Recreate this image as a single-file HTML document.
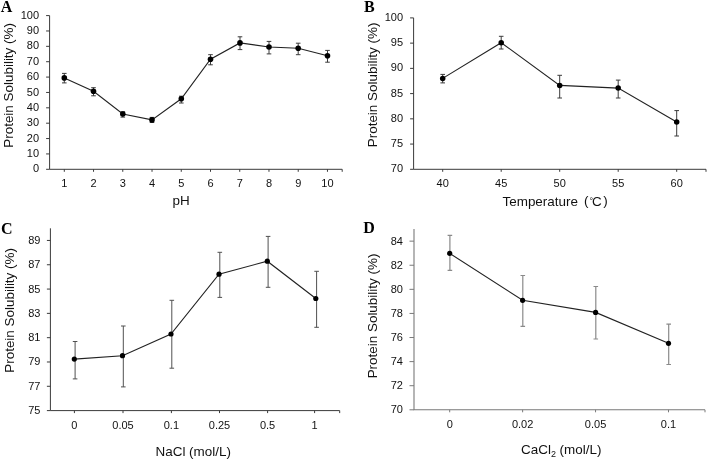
<!DOCTYPE html>
<html><head><meta charset="utf-8"><style>
html,body{margin:0;padding:0;background:#fff;width:708px;height:460px;overflow:hidden}
svg{display:block;will-change:transform}
.tk{font-family:"Liberation Sans",sans-serif;font-size:11px;fill:#111}
.tt{font-family:"Liberation Sans",sans-serif;font-size:13.45px;fill:#111}
.lt{font-family:"Liberation Serif",serif;font-weight:bold;font-size:16px;fill:#000}
</style></head><body>
<svg width="708" height="460" viewBox="0 0 708 460">
<path d="M49.6 15.6V169.3H342.2" fill="none" stroke="#3a3a3a" stroke-width="1"/>
<path d="M46.1 169.3H49.6" stroke="#3a3a3a" stroke-width="1"/>
<text x="39.1" y="172.4" text-anchor="end" class="tk">0</text>
<path d="M46.1 153.93H49.6" stroke="#3a3a3a" stroke-width="1"/>
<text x="39.1" y="157.03" text-anchor="end" class="tk">10</text>
<path d="M46.1 138.56H49.6" stroke="#3a3a3a" stroke-width="1"/>
<text x="39.1" y="141.66" text-anchor="end" class="tk">20</text>
<path d="M46.1 123.19H49.6" stroke="#3a3a3a" stroke-width="1"/>
<text x="39.1" y="126.29" text-anchor="end" class="tk">30</text>
<path d="M46.1 107.82H49.6" stroke="#3a3a3a" stroke-width="1"/>
<text x="39.1" y="110.92" text-anchor="end" class="tk">40</text>
<path d="M46.1 92.45H49.6" stroke="#3a3a3a" stroke-width="1"/>
<text x="39.1" y="95.55" text-anchor="end" class="tk">50</text>
<path d="M46.1 77.08H49.6" stroke="#3a3a3a" stroke-width="1"/>
<text x="39.1" y="80.18" text-anchor="end" class="tk">60</text>
<path d="M46.1 61.71H49.6" stroke="#3a3a3a" stroke-width="1"/>
<text x="39.1" y="64.81" text-anchor="end" class="tk">70</text>
<path d="M46.1 46.34H49.6" stroke="#3a3a3a" stroke-width="1"/>
<text x="39.1" y="49.44" text-anchor="end" class="tk">80</text>
<path d="M46.1 30.97H49.6" stroke="#3a3a3a" stroke-width="1"/>
<text x="39.1" y="34.07" text-anchor="end" class="tk">90</text>
<path d="M46.1 15.6H49.6" stroke="#3a3a3a" stroke-width="1"/>
<text x="39.1" y="18.7" text-anchor="end" class="tk">100</text>
<path d="M64.3 169.3V171.8" stroke="#3a3a3a" stroke-width="1"/>
<text x="64.3" y="186.5" text-anchor="middle" class="tk">1</text>
<path d="M93.54 169.3V171.8" stroke="#3a3a3a" stroke-width="1"/>
<text x="93.54" y="186.5" text-anchor="middle" class="tk">2</text>
<path d="M122.78 169.3V171.8" stroke="#3a3a3a" stroke-width="1"/>
<text x="122.78" y="186.5" text-anchor="middle" class="tk">3</text>
<path d="M152.02 169.3V171.8" stroke="#3a3a3a" stroke-width="1"/>
<text x="152.02" y="186.5" text-anchor="middle" class="tk">4</text>
<path d="M181.26 169.3V171.8" stroke="#3a3a3a" stroke-width="1"/>
<text x="181.26" y="186.5" text-anchor="middle" class="tk">5</text>
<path d="M210.5 169.3V171.8" stroke="#3a3a3a" stroke-width="1"/>
<text x="210.5" y="186.5" text-anchor="middle" class="tk">6</text>
<path d="M239.74 169.3V171.8" stroke="#3a3a3a" stroke-width="1"/>
<text x="239.74" y="186.5" text-anchor="middle" class="tk">7</text>
<path d="M268.98 169.3V171.8" stroke="#3a3a3a" stroke-width="1"/>
<text x="268.98" y="186.5" text-anchor="middle" class="tk">8</text>
<path d="M298.22 169.3V171.8" stroke="#3a3a3a" stroke-width="1"/>
<text x="298.22" y="186.5" text-anchor="middle" class="tk">9</text>
<path d="M327.46 169.3V171.8" stroke="#3a3a3a" stroke-width="1"/>
<text x="327.46" y="186.5" text-anchor="middle" class="tk">10</text>
<path d="M342.2 169.3V171.8" stroke="#3a3a3a" stroke-width="1"/>
<path d="M64.3 73.4V82.9M62 73.4H66.6M62 82.9H66.6" stroke="#3a3a3a" stroke-width="1" fill="none"/>
<path d="M93.5 87.7V95.8M91.2 87.7H95.8M91.2 95.8H95.8" stroke="#3a3a3a" stroke-width="1" fill="none"/>
<path d="M122.8 111.7V117.1M120.5 111.7H125.1M120.5 117.1H125.1" stroke="#3a3a3a" stroke-width="1" fill="none"/>
<path d="M152 117.4V122.4M149.7 117.4H154.3M149.7 122.4H154.3" stroke="#3a3a3a" stroke-width="1" fill="none"/>
<path d="M181.3 96.2V103M179 96.2H183.6M179 103H183.6" stroke="#3a3a3a" stroke-width="1" fill="none"/>
<path d="M210.5 54.7V64.8M208.2 54.7H212.8M208.2 64.8H212.8" stroke="#3a3a3a" stroke-width="1" fill="none"/>
<path d="M240 36.8V49.6M237.7 36.8H242.3M237.7 49.6H242.3" stroke="#3a3a3a" stroke-width="1" fill="none"/>
<path d="M269 41.4V53.9M266.7 41.4H271.3M266.7 53.9H271.3" stroke="#3a3a3a" stroke-width="1" fill="none"/>
<path d="M298.2 43.2V54.7M295.9 43.2H300.5M295.9 54.7H300.5" stroke="#3a3a3a" stroke-width="1" fill="none"/>
<path d="M327.5 50.4V62.2M325.2 50.4H329.8M325.2 62.2H329.8" stroke="#3a3a3a" stroke-width="1" fill="none"/>
<path d="M64.3 77.9 L93.5 91.3 L122.8 114 L152 119.9 L181.3 98.8 L210.5 59.2 L240 42.9 L269 47 L298.2 48.3 L327.5 55.8" stroke="#222" stroke-width="1.1" fill="none"/>
<circle cx="64.3" cy="77.9" r="2.8" fill="#000"/>
<circle cx="93.5" cy="91.3" r="2.8" fill="#000"/>
<circle cx="122.8" cy="114" r="2.8" fill="#000"/>
<circle cx="152" cy="119.9" r="2.8" fill="#000"/>
<circle cx="181.3" cy="98.8" r="2.8" fill="#000"/>
<circle cx="210.5" cy="59.2" r="2.8" fill="#000"/>
<circle cx="240" cy="42.9" r="2.8" fill="#000"/>
<circle cx="269" cy="47" r="2.8" fill="#000"/>
<circle cx="298.2" cy="48.3" r="2.8" fill="#000"/>
<circle cx="327.5" cy="55.8" r="2.8" fill="#000"/>
<path d="M413.6 17.9V169.3H706" fill="none" stroke="#3a3a3a" stroke-width="1"/>
<path d="M410.1 169.3H413.6" stroke="#3a3a3a" stroke-width="1"/>
<text x="403.1" y="172.4" text-anchor="end" class="tk">70</text>
<path d="M410.1 144.07H413.6" stroke="#3a3a3a" stroke-width="1"/>
<text x="403.1" y="147.17" text-anchor="end" class="tk">75</text>
<path d="M410.1 118.83H413.6" stroke="#3a3a3a" stroke-width="1"/>
<text x="403.1" y="121.93" text-anchor="end" class="tk">80</text>
<path d="M410.1 93.6H413.6" stroke="#3a3a3a" stroke-width="1"/>
<text x="403.1" y="96.7" text-anchor="end" class="tk">85</text>
<path d="M410.1 68.37H413.6" stroke="#3a3a3a" stroke-width="1"/>
<text x="403.1" y="71.47" text-anchor="end" class="tk">90</text>
<path d="M410.1 43.13H413.6" stroke="#3a3a3a" stroke-width="1"/>
<text x="403.1" y="46.23" text-anchor="end" class="tk">95</text>
<path d="M410.1 17.9H413.6" stroke="#3a3a3a" stroke-width="1"/>
<text x="403.1" y="21" text-anchor="end" class="tk">100</text>
<path d="M442.7 169.3V171.8" stroke="#3a3a3a" stroke-width="1"/>
<text x="442.7" y="186.5" text-anchor="middle" class="tk">40</text>
<path d="M501.2 169.3V171.8" stroke="#3a3a3a" stroke-width="1"/>
<text x="501.2" y="186.5" text-anchor="middle" class="tk">45</text>
<path d="M559.7 169.3V171.8" stroke="#3a3a3a" stroke-width="1"/>
<text x="559.7" y="186.5" text-anchor="middle" class="tk">50</text>
<path d="M618.2 169.3V171.8" stroke="#3a3a3a" stroke-width="1"/>
<text x="618.2" y="186.5" text-anchor="middle" class="tk">55</text>
<path d="M676.7 169.3V171.8" stroke="#3a3a3a" stroke-width="1"/>
<text x="676.7" y="186.5" text-anchor="middle" class="tk">60</text>
<path d="M706 169.3V171.8" stroke="#3a3a3a" stroke-width="1"/>
<path d="M442.7 74.4V82.9M440.4 74.4H445M440.4 82.9H445" stroke="#3a3a3a" stroke-width="1" fill="none"/>
<path d="M501.2 36.3V49M498.9 36.3H503.5M498.9 49H503.5" stroke="#3a3a3a" stroke-width="1" fill="none"/>
<path d="M559.7 75.3V98M557.4 75.3H562M557.4 98H562" stroke="#3a3a3a" stroke-width="1" fill="none"/>
<path d="M618.2 80.1V98M615.9 80.1H620.5M615.9 98H620.5" stroke="#3a3a3a" stroke-width="1" fill="none"/>
<path d="M676.7 110.6V136M674.4 110.6H679M674.4 136H679" stroke="#3a3a3a" stroke-width="1" fill="none"/>
<path d="M442.7 78.4 L501.2 42.7 L559.7 85.4 L618.2 88.1 L676.7 122" stroke="#222" stroke-width="1.1" fill="none"/>
<circle cx="442.7" cy="78.4" r="2.75" fill="#000"/>
<circle cx="501.2" cy="42.7" r="2.75" fill="#000"/>
<circle cx="559.7" cy="85.4" r="2.75" fill="#000"/>
<circle cx="618.2" cy="88.1" r="2.75" fill="#000"/>
<circle cx="676.7" cy="122" r="2.75" fill="#000"/>
<path d="M50.4 228.3V410.6H339.7" fill="none" stroke="#3a3a3a" stroke-width="1"/>
<path d="M46.9 410.6H50.4" stroke="#3a3a3a" stroke-width="1"/>
<text x="40.4" y="414.1" text-anchor="end" class="tk">75</text>
<path d="M46.9 386.29H50.4" stroke="#3a3a3a" stroke-width="1"/>
<text x="40.4" y="389.79" text-anchor="end" class="tk">77</text>
<path d="M46.9 361.99H50.4" stroke="#3a3a3a" stroke-width="1"/>
<text x="40.4" y="365.49" text-anchor="end" class="tk">79</text>
<path d="M46.9 337.68H50.4" stroke="#3a3a3a" stroke-width="1"/>
<text x="40.4" y="341.18" text-anchor="end" class="tk">81</text>
<path d="M46.9 313.37H50.4" stroke="#3a3a3a" stroke-width="1"/>
<text x="40.4" y="316.87" text-anchor="end" class="tk">83</text>
<path d="M46.9 289.07H50.4" stroke="#3a3a3a" stroke-width="1"/>
<text x="40.4" y="292.57" text-anchor="end" class="tk">85</text>
<path d="M46.9 264.76H50.4" stroke="#3a3a3a" stroke-width="1"/>
<text x="40.4" y="268.26" text-anchor="end" class="tk">87</text>
<path d="M46.9 240.45H50.4" stroke="#3a3a3a" stroke-width="1"/>
<text x="40.4" y="243.95" text-anchor="end" class="tk">89</text>
<path d="M74.4 410.6V413.1" stroke="#3a3a3a" stroke-width="1"/>
<text x="74.4" y="428.5" text-anchor="middle" class="tk">0</text>
<path d="M123 410.6V413.1" stroke="#3a3a3a" stroke-width="1"/>
<text x="123" y="428.5" text-anchor="middle" class="tk">0.05</text>
<path d="M171.4 410.6V413.1" stroke="#3a3a3a" stroke-width="1"/>
<text x="171.4" y="428.5" text-anchor="middle" class="tk">0.1</text>
<path d="M219.5 410.6V413.1" stroke="#3a3a3a" stroke-width="1"/>
<text x="219.5" y="428.5" text-anchor="middle" class="tk">0.25</text>
<path d="M267.6 410.6V413.1" stroke="#3a3a3a" stroke-width="1"/>
<text x="267.6" y="428.5" text-anchor="middle" class="tk">0.5</text>
<path d="M314.6 410.6V413.1" stroke="#3a3a3a" stroke-width="1"/>
<text x="314.6" y="428.5" text-anchor="middle" class="tk">1</text>
<path d="M339.7 410.6V413.1" stroke="#3a3a3a" stroke-width="1"/>
<path d="M75.1 341.5V378.9M72.8 341.5H77.4M72.8 378.9H77.4" stroke="#505050" stroke-width="1" fill="none"/>
<path d="M123.3 326V386.9M121 326H125.6M121 386.9H125.6" stroke="#505050" stroke-width="1" fill="none"/>
<path d="M171.8 300.3V368.2M169.5 300.3H174.1M169.5 368.2H174.1" stroke="#505050" stroke-width="1" fill="none"/>
<path d="M219.8 252.3V297.4M217.5 252.3H222.1M217.5 297.4H222.1" stroke="#505050" stroke-width="1" fill="none"/>
<path d="M268.1 236.4V287.3M265.8 236.4H270.4M265.8 287.3H270.4" stroke="#505050" stroke-width="1" fill="none"/>
<path d="M316.6 271.3V327.3M314.3 271.3H318.9M314.3 327.3H318.9" stroke="#505050" stroke-width="1" fill="none"/>
<path d="M74.3 359.1 L122.5 355.7 L171 334 L219 274.2 L267.3 261.2 L315.8 298.5" stroke="#222" stroke-width="1.1" fill="none"/>
<circle cx="74.3" cy="359.1" r="2.6" fill="#000"/>
<circle cx="122.5" cy="355.7" r="2.6" fill="#000"/>
<circle cx="171" cy="334" r="2.6" fill="#000"/>
<circle cx="219" cy="274.2" r="2.6" fill="#000"/>
<circle cx="267.3" cy="261.2" r="2.6" fill="#000"/>
<circle cx="315.8" cy="298.5" r="2.6" fill="#000"/>
<path d="M414 229.1V409.8H705" fill="none" stroke="#7a7a7a" stroke-width="1.1"/>
<path d="M409.5 409.8H414" stroke="#7a7a7a" stroke-width="1"/>
<text x="403" y="413.2" text-anchor="end" class="tk">70</text>
<path d="M409.5 385.71H414" stroke="#7a7a7a" stroke-width="1"/>
<text x="403" y="389.11" text-anchor="end" class="tk">72</text>
<path d="M409.5 361.61H414" stroke="#7a7a7a" stroke-width="1"/>
<text x="403" y="365.01" text-anchor="end" class="tk">74</text>
<path d="M409.5 337.52H414" stroke="#7a7a7a" stroke-width="1"/>
<text x="403" y="340.92" text-anchor="end" class="tk">76</text>
<path d="M409.5 313.43H414" stroke="#7a7a7a" stroke-width="1"/>
<text x="403" y="316.83" text-anchor="end" class="tk">78</text>
<path d="M409.5 289.33H414" stroke="#7a7a7a" stroke-width="1"/>
<text x="403" y="292.73" text-anchor="end" class="tk">80</text>
<path d="M409.5 265.24H414" stroke="#7a7a7a" stroke-width="1"/>
<text x="403" y="268.64" text-anchor="end" class="tk">82</text>
<path d="M409.5 241.15H414" stroke="#7a7a7a" stroke-width="1"/>
<text x="403" y="244.55" text-anchor="end" class="tk">84</text>
<path d="M449.7 409.8V412.3" stroke="#7a7a7a" stroke-width="1"/>
<text x="449.7" y="427.6" text-anchor="middle" class="tk">0</text>
<path d="M522.63 409.8V412.3" stroke="#7a7a7a" stroke-width="1"/>
<text x="522.63" y="427.6" text-anchor="middle" class="tk">0.02</text>
<path d="M595.56 409.8V412.3" stroke="#7a7a7a" stroke-width="1"/>
<text x="595.56" y="427.6" text-anchor="middle" class="tk">0.05</text>
<path d="M668.49 409.8V412.3" stroke="#7a7a7a" stroke-width="1"/>
<text x="668.49" y="427.6" text-anchor="middle" class="tk">0.1</text>
<path d="M705 409.8V412.3" stroke="#7a7a7a" stroke-width="1"/>
<path d="M449.9 235.3V270.3M447.6 235.3H452.2M447.6 270.3H452.2" stroke="#8a8a8a" stroke-width="1.2" fill="none"/>
<path d="M522.8 275.5V326.4M520.5 275.5H525.1M520.5 326.4H525.1" stroke="#8a8a8a" stroke-width="1.2" fill="none"/>
<path d="M595.8 286.5V339M593.5 286.5H598.1M593.5 339H598.1" stroke="#8a8a8a" stroke-width="1.2" fill="none"/>
<path d="M668.7 324.1V364.5M666.4 324.1H671M666.4 364.5H671" stroke="#8a8a8a" stroke-width="1.2" fill="none"/>
<path d="M449.7 253.4 L522.6 300.3 L595.6 312.4 L668.5 343.3" stroke="#222" stroke-width="1.1" fill="none"/>
<circle cx="449.7" cy="253.4" r="2.6" fill="#000"/>
<circle cx="522.6" cy="300.3" r="2.6" fill="#000"/>
<circle cx="595.6" cy="312.4" r="2.6" fill="#000"/>
<circle cx="668.5" cy="343.3" r="2.6" fill="#000"/>
<text x="0.8" y="12.1" class="lt">A</text>
<text x="364" y="12.0" class="lt">B</text>
<text x="1" y="233.5" class="lt">C</text>
<text x="363.3" y="233.3" class="lt">D</text>
<text transform="translate(13.2 85.4) rotate(-90)" text-anchor="middle" class="tt">Protein Solubility (%)</text>
<text transform="translate(377 84.9) rotate(-90)" text-anchor="middle" class="tt">Protein Solubility (%)</text>
<text transform="translate(13.5 310.4) rotate(-90)" text-anchor="middle" class="tt">Protein Solubility (%)</text>
<text transform="translate(377 316) rotate(-90)" text-anchor="middle" class="tt">Protein Solubility (%)</text>
<text x="172.5" y="204.6" class="tt">pH</text>
<text x="502.5" y="205.8" class="tt">Temperature<tspan x="584" dy="-1">(</tspan><tspan x="589.5" font-size="9" dy="-0.5">°</tspan><tspan x="592" dy="1.5">C</tspan><tspan x="603.3" dy="-1">)</tspan></text>
<text x="155.5" y="455.6" class="tt">NaCl (mol/L)</text>
<text x="521" y="454.1" class="tt">CaCl<tspan font-size="9" dy="3">2</tspan><tspan dy="-3"> (mol/L)</tspan></text>
</svg>
</body></html>
